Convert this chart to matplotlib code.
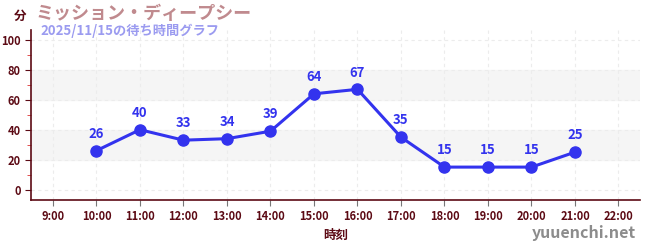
import matplotlib.pyplot as plt
from matplotlib.ticker import MultipleLocator

plt.rcParams['font.family'] = ['Noto Sans CJK JP', 'DejaVu Sans']

hours = [10, 11, 12, 13, 14, 15, 16, 17, 18, 19, 20, 21]
waits = [26, 40, 33, 34, 39, 64, 67, 35, 15, 15, 15, 25]
tick_hours = list(range(9, 23))
tick_labels = [f"{h}:00" for h in tick_hours]
title = "ミッション・ディープシー"
subtitle = "2025/11/15の待ち時間グラフ"

dark = '#5c0a14'
line_col = '#3333ee'

fig = plt.figure(figsize=(6.5, 2.5), dpi=100)
ax = fig.add_axes([0.048, 0.2, 0.937, 0.682])

ax.set_xlim(8.5, 22.5)
ax.set_ylim(-7, 107)

for lo, hi in [(20, 40), (60, 80)]:
    ax.axhspan(lo, hi, color='#f5f5f5', zorder=0)

ax.set_xticks(tick_hours)
ax.set_xticklabels(tick_labels)
ax.set_yticks([0, 20, 40, 60, 80, 100])
ax.yaxis.set_minor_locator(MultipleLocator(10))
ax.grid(True, which='major', color='#ececec', linestyle=(0, (3, 3)), linewidth=0.8)

for s in ['top', 'right']:
    ax.spines[s].set_visible(False)
for s in ['left', 'bottom']:
    ax.spines[s].set_color(dark)
    ax.spines[s].set_linewidth(1.2)

ax.tick_params(axis='both', colors=dark, labelsize=8, length=4, width=0.8)
ax.tick_params(axis='x', colors='#777777', labelcolor=dark)
ax.tick_params(axis='y', which='minor', colors='#dd3333', length=3)
for lab in ax.get_xticklabels() + ax.get_yticklabels():
    lab.set_fontweight('bold')

ax.plot(hours, waits, color=line_col, linewidth=2.2, marker='o',
        markersize=8, zorder=3)
for h, w in zip(hours, waits):
    ax.annotate(str(w), (h, w), xytext=(0, 7), textcoords='offset points',
                ha='center', va='bottom', color=line_col, fontsize=9.5,
                fontweight='bold')

ax.set_xlabel('時刻', color=dark, fontsize=9, fontweight='bold', labelpad=4)

fig.text(0.022, 0.935, '分', color=dark, fontsize=9, fontweight='bold',
         ha='left', va='center')
fig.text(0.055, 0.945, title, color='#c08a8e', fontsize=13,
         fontweight='bold', ha='left', va='center')
fig.text(0.062, 0.875, subtitle, color='#9b9bf0', fontsize=9.5,
         fontweight='bold', ha='left', va='center')
fig.text(0.978, 0.068, 'yuuenchi.net', color='#8c8c8c', fontsize=11.5,
         fontweight='bold', ha='right', va='center')

fig.savefig('out.png', dpi=100)
